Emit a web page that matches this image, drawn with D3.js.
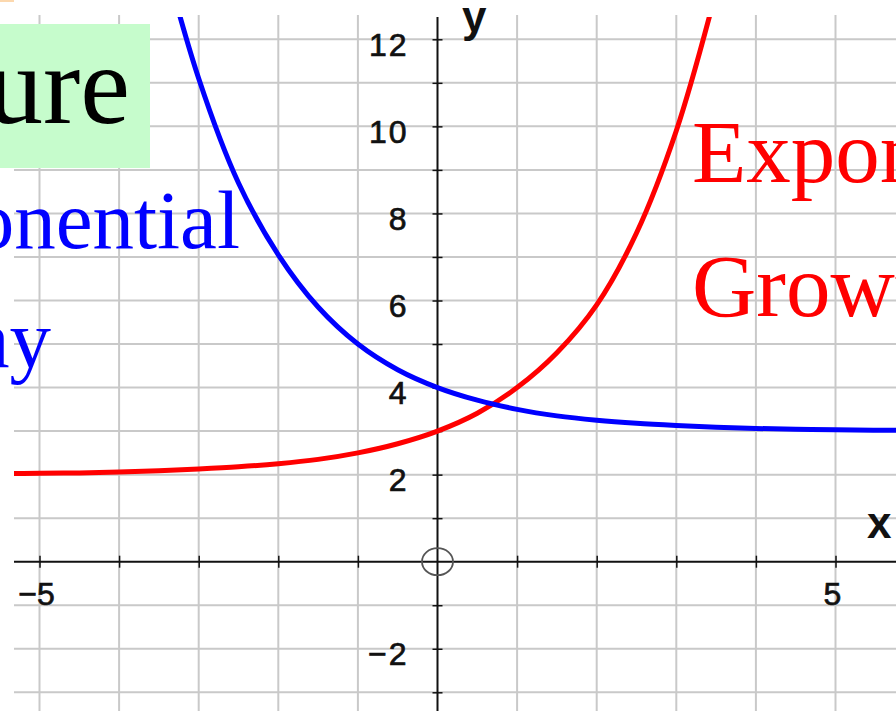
<!DOCTYPE html>
<html>
<head>
<meta charset="utf-8">
<script src="https://cdn.jsdelivr.net/npm/d3@7"></script>
<style>
  body { margin: 0; background: #fff; }
  svg { display: block; }
</style>
</head>
<body>
<script>
var width = 896;
var height = 711;

// values
var xTicks = [-5, -4, -3, -2, -1, 1, 2, 3, 4, 5];
var yTicks = [-3, -2, -1, 1, 2, 3, 4, 5, 6, 7, 8, 9, 10, 11, 12];
var xTickLabels = [-5, 5];
var yTickLabels = [-2, 2, 4, 6, 8, 10, 12];

var growthX = [-5.5, -5, -4.5, -4, -3.5, -3, -2.5, -2, -1.5, -1, -0.5, 0, 0.5, 1, 1.5, 2, 2.5, 3, 3.5];
var growthY = [2.02, 2.03, 2.04, 2.06, 2.09, 2.13, 2.18, 2.25, 2.35, 2.5, 2.71, 3.0, 3.41, 4.0, 4.8, 5.9, 7.55, 9.9, 13.1];

var decayX = [-3.5, -3, -2.5, -2, -1.5, -1, -0.5, 0, 0.5, 1, 1.5, 2, 2.5, 3, 3.5, 4, 4.5, 5, 5.5, 6];
var decayY = [14.3, 11.1, 8.7, 7.05, 5.85, 5.0, 4.41, 4.0, 3.71, 3.5, 3.35, 3.25, 3.18, 3.13, 3.09, 3.06, 3.04, 3.03, 3.02, 3.02];

var plot = { left: 14, right: 896, top: 15, bottom: 711 };

var svg = d3.select("body")
    .append("svg")
    .attr("width", width)
    .attr("height", height)

var xScale = d3.scaleLinear()
    .domain([-5, 5])
    .range([39.5, 835.5])
var yScale = d3.scaleLinear()
    .domain([0, 12])
    .range([561.7, 39.3])

// small orange sliver in the corner
svg.append("rect")
    .attr("x", 0).attr("y", 0)
    .attr("width", 14).attr("height", 2)
    .attr("fill", "#fcd8ae")

// grid
var grid = svg.append("g").attr("class", "grid")
    .attr("stroke", "#c9c9c9")
    .attr("stroke-width", 2)

grid.selectAll(".vline")
    .data(xTicks)
    .enter()
    .append("line")
    .attr("class", "vline")
    .attr("x1", function (d) { return xScale(d) })
    .attr("x2", function (d) { return xScale(d) })
    .attr("y1", plot.top)
    .attr("y2", plot.bottom)

grid.selectAll(".hline")
    .data(yTicks)
    .enter()
    .append("line")
    .attr("class", "hline")
    .attr("x1", plot.left)
    .attr("x2", plot.right)
    .attr("y1", function (d) { return yScale(d) })
    .attr("y2", function (d) { return yScale(d) })

// axes
var xAxis = d3.axisBottom(xScale)
    .tickValues(xTicks)
    .tickSize(12)
    .tickFormat("")
var yAxis = d3.axisRight(yScale)
    .tickValues(yTicks)
    .tickSize(10)
    .tickFormat("")

var gx = svg.append("g")
    .attr("class", "xaxis")
    .attr("transform", "translate(0," + (yScale(0) - 6) + ")")
    .call(xAxis)
gx.select(".domain").remove()
gx.selectAll("line").attr("stroke", "#111").attr("stroke-width", 1.5)

var gy = svg.append("g")
    .attr("class", "yaxis")
    .attr("transform", "translate(" + (xScale(0) - 5) + ",0)")
    .call(yAxis)
gy.select(".domain").remove()
gy.selectAll("line").attr("stroke", "#111").attr("stroke-width", 1.5)

svg.append("line")
    .attr("x1", plot.left).attr("x2", plot.right)
    .attr("y1", yScale(0)).attr("y2", yScale(0))
    .attr("stroke", "#111").attr("stroke-width", 2)
svg.append("line")
    .attr("x1", xScale(0)).attr("x2", xScale(0))
    .attr("y1", plot.top + 2).attr("y2", plot.bottom)
    .attr("stroke", "#111").attr("stroke-width", 2)

// tick labels
svg.selectAll(".xlabel")
    .data(xTickLabels)
    .enter()
    .append("text")
    .attr("class", "xlabel")
    .attr("x", function (d) { return xScale(d) - 3 })
    .attr("y", yScale(0) + 43)
    .attr("text-anchor", "middle")
    .attr("font-family", "Liberation Sans, Arial, sans-serif")
    .attr("font-size", 32)
    .attr("fill", "#111")
    .attr("stroke", "#111").attr("stroke-width", 0.7)
    .text(function (d) { return d < 0 ? "\u2212" + Math.abs(d) : d })

svg.selectAll(".ylabel")
    .data(yTickLabels)
    .enter()
    .append("text")
    .attr("class", "ylabel")
    .attr("x", xScale(0) - 29)
    .attr("y", function (d) { return yScale(d) + 16.5 })
    .attr("text-anchor", "end")
    .attr("font-family", "Liberation Sans, Arial, sans-serif")
    .attr("font-size", 32)
    .attr("letter-spacing", 2)
    .attr("fill", "#111")
    .attr("stroke", "#111").attr("stroke-width", 0.7)
    .text(function (d) { return d < 0 ? "\u2212" + Math.abs(d) : d })

svg.append("text")
    .attr("x", 462).attr("y", 32)
    .attr("font-family", "Liberation Sans, Arial, sans-serif")
    .attr("font-size", 44).attr("font-weight", "bold")
    .attr("fill", "#111")
    .text("y")
svg.append("text")
    .attr("x", 867).attr("y", 538)
    .attr("font-family", "Liberation Sans, Arial, sans-serif")
    .attr("font-size", 44).attr("font-weight", "bold")
    .attr("fill", "#111")
    .text("x")

// origin marker
svg.append("ellipse")
    .attr("cx", xScale(0)).attr("cy", yScale(0))
    .attr("rx", 15.5).attr("ry", 13.5)
    .attr("fill", "none")
    .attr("stroke", "#555")
    .attr("stroke-width", 1.8)

// curves
svg.append("clipPath")
    .attr("id", "clip")
    .append("rect")
    .attr("x", plot.left).attr("y", plot.top + 2)
    .attr("width", plot.right - plot.left)
    .attr("height", plot.bottom - plot.top)

var line = d3.line()
    .x(function (d) { return xScale(d[0]) })
    .y(function (d) { return yScale(d[1]) })
    .curve(d3.curveCatmullRom)

svg.append("path")
    .datum(d3.zip(growthX, growthY))
    .attr("clip-path", "url(#clip)")
    .attr("d", line)
    .attr("fill", "none")
    .attr("stroke", "#ff0000")
    .attr("stroke-width", 5)

svg.append("path")
    .datum(d3.zip(decayX, decayY))
    .attr("clip-path", "url(#clip)")
    .attr("d", line)
    .attr("fill", "none")
    .attr("stroke", "#0000ff")
    .attr("stroke-width", 5)

// title box, cut off at the left edge
svg.append("rect")
    .attr("x", 0).attr("y", 24)
    .attr("width", 150).attr("height", 144)
    .attr("fill", "#c6fccc")
svg.append("text")
    .attr("x", 130).attr("y", 123)
    .attr("text-anchor", "end")
    .attr("font-family", "Liberation Serif, Times New Roman, serif")
    .attr("font-size", 112)
    .attr("fill", "#000")
    .text("Nature")

// curve captions
var serif = "Liberation Serif, Times New Roman, serif";
svg.append("text")
    .attr("x", 240).attr("y", 248)
    .attr("text-anchor", "end")
    .attr("font-family", serif).attr("font-size", 83)
    .attr("fill", "#0000ff")
    .text("Exponential")
svg.append("text")
    .attr("x", 51).attr("y", 367)
    .attr("text-anchor", "end")
    .attr("font-family", serif).attr("font-size", 83)
    .attr("fill", "#0000ff")
    .text("Decay")

svg.append("text")
    .attr("x", 692).attr("y", 182)
    .attr("font-family", serif).attr("font-size", 89)
    .attr("fill", "#ff0000")
    .text("Exponential")
svg.append("text")
    .attr("x", 692).attr("y", 316)
    .attr("font-family", serif).attr("font-size", 89)
    .attr("fill", "#ff0000")
    .text("Growth")
</script>
</body>
</html>
